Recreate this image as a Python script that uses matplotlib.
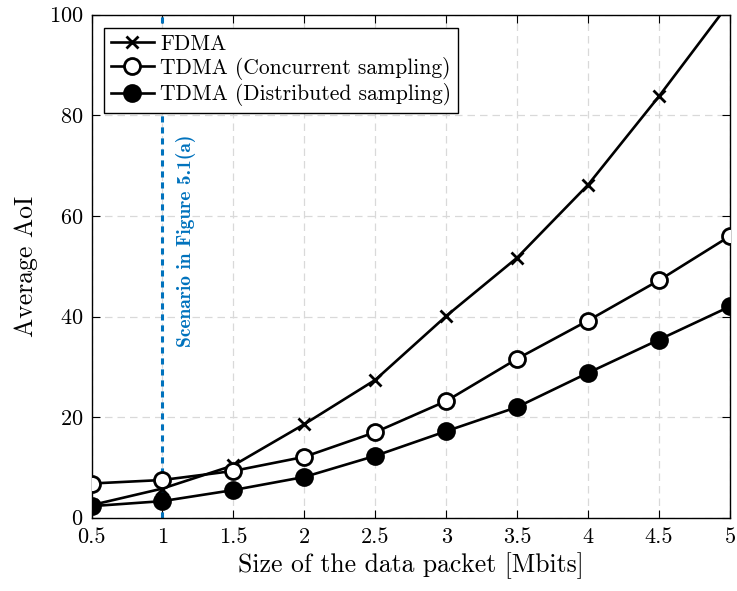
import numpy as np
import matplotlib
matplotlib.use("Agg")
import matplotlib.pyplot as plt

plt.rcParams['font.family'] = 'serif'
plt.rcParams['font.serif'] = ['cmr10', 'DejaVu Serif']
plt.rcParams['mathtext.fontset'] = 'cm'
plt.rcParams['axes.formatter.use_mathtext'] = True

''' data read off the chart '''
packet_size = [0.5, 1, 1.5, 2, 2.5, 3, 3.5, 4, 4.5, 5]
aoi_fdma = [2.5, 5.8, 10.4, 18.6, 27.4, 40.1, 51.7, 66.2, 83.8, 102.5]
aoi_tdma_conc = [6.8, 7.5, 9.3, 12.1, 17.0, 23.2, 31.6, 39.2, 47.2, 56.0]
aoi_tdma_dist = [2.3, 3.3, 5.5, 8.1, 12.3, 17.2, 22.0, 28.8, 35.4, 42.0]
xticks = [0.5, 1, 1.5, 2, 2.5, 3, 3.5, 4, 4.5, 5]
xticklabels = ['0.5', '1', '1.5', '2', '2.5', '3', '3.5', '4', '4.5', '5']
yticks = [0, 20, 40, 60, 80, 100]
scenario_x = 1

fig = plt.figure(figsize=(7.37, 5.91), dpi=100)
ax = fig.add_axes([0.1242, 0.124, 0.8663, 0.8511])

ax.plot(packet_size, aoi_fdma, '-x', color='k', lw=1.9, ms=9, mew=2,
        label='FDMA', zorder=3)
ax.plot(packet_size, aoi_tdma_conc, '-o', color='k', lw=1.9, ms=11.5, mew=2,
        mfc='w', label='TDMA (Concurrent sampling)', zorder=3)
ax.plot(packet_size, aoi_tdma_dist, '-o', color='k', lw=1.9, ms=11.5, mew=2,
        mfc='k', label='TDMA (Distributed sampling)', zorder=3)

ax.axvline(scenario_x, color='#0072BD', lw=2.2, ls=(0, (2, 1.6)), zorder=2)
ax.text(scenario_x + 0.165, 55, 'Scenario in Figure 5.1(a)', rotation=90,
        color='#0072BD', fontfamily='cmb10', fontsize=14,
        ha='center', va='center')

ax.set_xlim(0.5, 5)
ax.set_ylim(0, 100)
ax.set_xticks(xticks)
ax.set_xticklabels(xticklabels)
ax.set_yticks(yticks)
ax.tick_params(direction='in', top=True, right=True, labelsize=16,
               length=6, width=0.8)
ax.tick_params(axis='x', pad=7)
ax.tick_params(axis='y', pad=6)
ax.grid(True, ls=(0, (6, 4)), color='#d9d9d9', lw=0.9)
ax.set_axisbelow(True)
for s in ax.spines.values():
    s.set_linewidth(1.0)

ax.set_xlabel('Size of the data packet [Mbits]', fontsize=18.5, labelpad=4)
ax.set_ylabel('Average AoI', fontsize=18.5, labelpad=8)

leg = ax.legend(loc='upper left', fontsize=15.5, fancybox=False,
                edgecolor='k', framealpha=1, borderpad=0.3,
                handlelength=2.0, handletextpad=0.3, labelspacing=0.15,
                borderaxespad=0.6)
leg.get_frame().set_linewidth(1.0)

plt.savefig('out.png', dpi=100)
